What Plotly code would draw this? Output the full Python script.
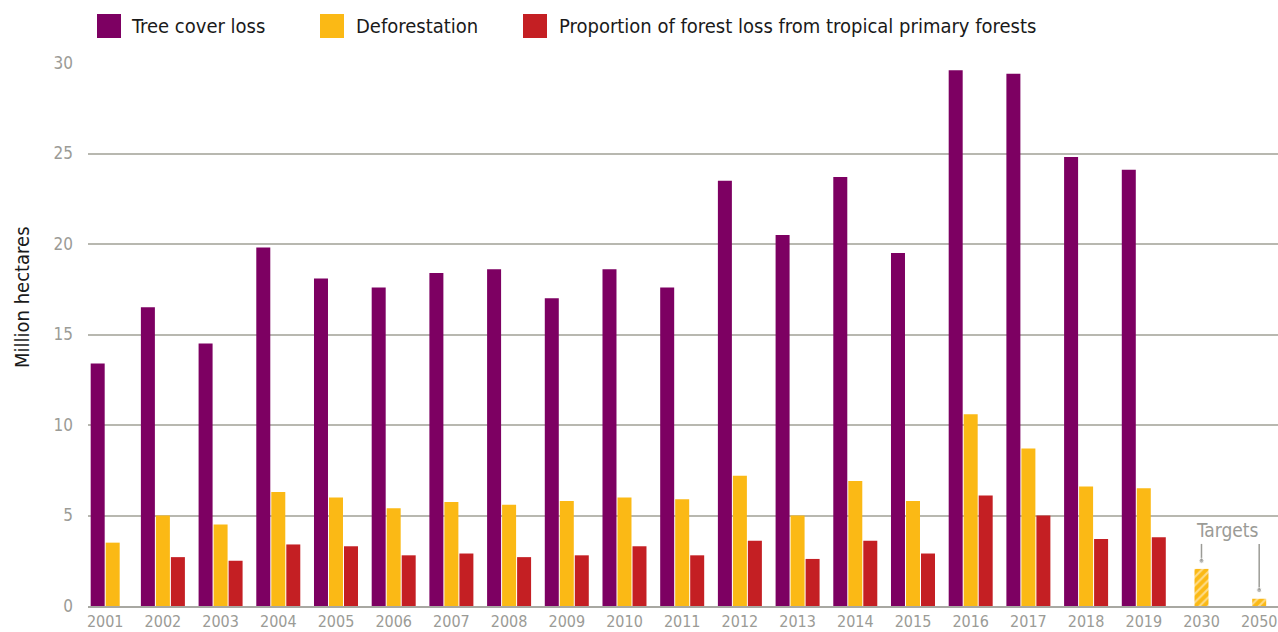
import plotly.graph_objects as go

# ---------------- data ----------------
years = ["2001", "2002", "2003", "2004", "2005", "2006", "2007", "2008", "2009", "2010",
         "2011", "2012", "2013", "2014", "2015", "2016", "2017", "2018", "2019", "2030", "2050"]
tree_cover_loss = [13.4, 16.5, 14.5, 19.8, 18.1, 17.6, 18.4, 18.6, 17.0, 18.6,
                   17.6, 23.5, 20.5, 23.7, 19.5, 29.6, 29.4, 24.8, 24.1, None, None]
deforestation = [3.5, 5.0, 4.5, 6.3, 6.0, 5.4, 5.75, 5.6, 5.8, 6.0,
                 5.9, 7.2, 5.0, 6.9, 5.8, 10.6, 8.7, 6.6, 6.5, 2.05, 0.4]
primary_forest_loss = [None, 2.7, 2.5, 3.4, 3.3, 2.8, 2.9, 2.7, 2.8, 3.3,
                       2.8, 3.6, 2.6, 3.6, 2.9, 6.1, 5.0, 3.7, 3.8, None, None]
is_target = [False] * 19 + [True, True]
series_names = ["Tree cover loss", "Deforestation",
                "Proportion of forest loss from tropical primary forests"]
y_ticks = [0, 5, 10, 15, 20, 25, 30]
target_label = "Targets"
target_years = ["2030", "2050"]
target_pointer_top = [3.43, 3.43]
target_pointer_tip = [2.5, 0.88]
y_title = "Million hectares"

# ---------------- style ----------------
COLORS = ["#7D0062", "#FBB915", "#C41F23"]
FONT = "DejaVu Sans Condensed, Liberation Sans Narrow, Roboto, sans-serif"
GRAY = "#9B9B96"
GRID = "#B8B8B0"
W, H = 1278, 632
PLOT_LEFT, PLOT_RIGHT, PLOT_TOP, PLOT_BOTTOM = 88, 1278, 63, 606
L, R, T, B = PLOT_LEFT, W - PLOT_RIGHT, PLOT_TOP, H - PLOT_BOTTOM
BAR_W = 0.2426
STEP = 0.26


def px_x(px):
    return (px - PLOT_LEFT) / (PLOT_RIGHT - PLOT_LEFT)


def px_y(py):
    return (PLOT_BOTTOM - py) / (PLOT_BOTTOM - PLOT_TOP)


series = [tree_cover_loss, deforestation, primary_forest_loss]
offsets = [[0.0] * len(years) for _ in series]
for j in range(len(years)):
    present = [k for k, s in enumerate(series) if s[j] is not None]
    n = len(present)
    for rank, k in enumerate(present):
        offsets[k][j] = -n * STEP / 2 + rank * STEP + (STEP - BAR_W) / 2

fig = go.Figure()
for k, (name, vals) in enumerate(zip(series_names, series)):
    marker = dict(color=COLORS[k], line=dict(width=0))
    if k == 1:
        marker["pattern"] = dict(shape=["/" if t else "" for t in is_target],
                                 fgcolor="white", size=6, solidity=0.35)
    fig.add_trace(go.Bar(
        x=years, y=vals, name=name, width=BAR_W, offset=offsets[k],
        marker=marker, showlegend=False,
    ))

# target pointers (line with a dot at the end)
for yr, top, tip in zip(target_years, target_pointer_top, target_pointer_tip):
    fig.add_trace(go.Scatter(
        x=[yr, yr], y=[top, tip], mode="lines+markers",
        line=dict(color=GRAY, width=1.5),
        marker=dict(size=[0, 5], color=GRAY),
        showlegend=False, hoverinfo="skip",
    ))

# manual legend (big square swatches)
legend_sq_x = [97, 320, 523]
legend_txt_x = [131, 356, 559]
shapes = []
annotations = []
for k, name in enumerate(series_names):
    shapes.append(dict(type="rect", xref="paper", yref="paper",
                       x0=px_x(legend_sq_x[k]), x1=px_x(legend_sq_x[k] + 24),
                       y0=px_y(38), y1=px_y(14),
                       fillcolor=COLORS[k], line=dict(width=0), layer="above"))
    annotations.append(dict(xref="paper", yref="paper", x=px_x(legend_txt_x[k] - 2), y=px_y(26),
                            text=name, showarrow=False, xanchor="left", yanchor="middle",
                            font=dict(family=FONT, size=20, color="#1A1A1A")))

# y-axis title
annotations.append(dict(xref="paper", yref="paper", x=px_x(22), y=px_y(297),
                        text=y_title, showarrow=False, textangle=-90,
                        xanchor="center", yanchor="middle",
                        font=dict(family=FONT, size=20, color="#1A1A1A")))

# Targets label
annotations.append(dict(xref="paper", yref="paper", x=px_x(1227), y=px_y(530),
                        text=target_label, showarrow=False, xanchor="center", yanchor="middle",
                        font=dict(family=FONT, size=19, color=GRAY)))

fig.update_layout(
    width=W, height=H,
    margin=dict(l=L, r=R, t=T, b=B, autoexpand=False),
    paper_bgcolor="white", plot_bgcolor="white",
    barmode="overlay",
    showlegend=False,
    font=dict(family=FONT, color=GRAY),
    shapes=shapes, annotations=annotations,
    xaxis=dict(type="category", range=[-0.298, 20.326], showgrid=False,
               showline=True, linecolor="#A8A8A2", linewidth=2,
               ticks="", tickfont=dict(family=FONT, size=16, color=GRAY),
               automargin=False, fixedrange=True),
    yaxis=dict(range=[0, 30], tickvals=y_ticks, showgrid=True,
               gridcolor=GRID, gridwidth=1.5, zeroline=False, showline=False,
               ticks="", ticklabelstandoff=14,
               tickfont=dict(family=FONT, size=17, color=GRAY),
               automargin=False, fixedrange=True),
)

# the page's default 8px body margin would push the 1278x632 figure off-screen
fig.write_html("out.html", config={"displayModeBar": False},
               post_script="document.body.style.margin='0';")
